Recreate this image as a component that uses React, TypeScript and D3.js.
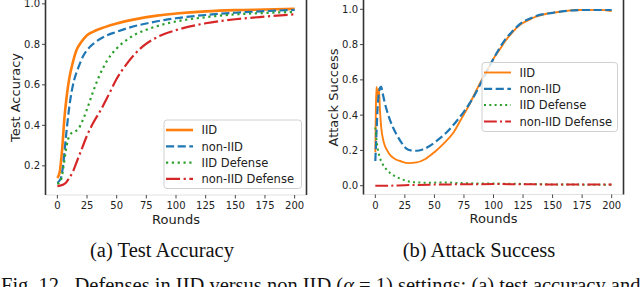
import React from "react";
import * as d3 from "d3";

// ---------- Data ----------
const xTicks = [0, 25, 50, 75, 100, 125, 150, 175, 200];
const accYTicks = [0.2, 0.4, 0.6, 0.8, 1.0];
const atkYTicks = [0.0, 0.2, 0.4, 0.6, 0.8, 1.0];
const seriesNames = ["IID", "non-IID", "IID Defense", "non-IID Defense"];

// (a) Test accuracy
const accIIDRounds = [0, 2, 4, 6, 8, 10, 13, 16, 20, 25, 30, 40, 50, 64, 84, 100, 125, 150, 175, 200];
const accIIDValues = [0.14, 0.17, 0.28, 0.44, 0.55, 0.63, 0.71, 0.77, 0.81, 0.845, 0.862, 0.885, 0.903, 0.922, 0.942, 0.952, 0.963, 0.969, 0.972, 0.975];

const accNonIIDRounds = [0, 3, 5, 7, 9, 11, 14, 18, 22, 27, 33, 40, 50, 62, 75, 90, 100, 125, 150, 175, 200];
const accNonIIDValues = [0.115, 0.14, 0.21, 0.33, 0.44, 0.53, 0.62, 0.69, 0.745, 0.785, 0.815, 0.84, 0.862, 0.885, 0.903, 0.92, 0.929, 0.945, 0.956, 0.964, 0.97];

const accIIDDefRounds = [0, 3, 5, 7, 9, 12, 15, 18, 21, 25, 30, 35, 42, 50, 58, 66, 75, 87, 100, 125, 150, 175, 200];
const accIIDDefValues = [0.11, 0.13, 0.19, 0.27, 0.33, 0.362, 0.37, 0.385, 0.42, 0.48, 0.565, 0.64, 0.72, 0.78, 0.82, 0.85, 0.872, 0.895, 0.913, 0.934, 0.948, 0.955, 0.96];

const accNonIIDDefRounds = [0, 4, 7, 10, 13, 17, 21, 25, 30, 37, 44, 50, 58, 65, 72, 84, 100, 125, 150, 175, 200];
const accNonIIDDefValues = [0.1, 0.105, 0.115, 0.14, 0.17, 0.23, 0.29, 0.35, 0.41, 0.48, 0.56, 0.63, 0.7, 0.75, 0.79, 0.835, 0.87, 0.904, 0.924, 0.937, 0.948];

// (b) Attack success
const atkIIDRounds = [0, 0.5, 1, 2, 3, 4, 5, 7, 10, 13, 17, 21, 28, 35, 42, 50, 58, 66, 72, 78, 84, 90, 96, 100, 105, 110, 116, 122, 130, 136, 145, 150, 160, 172, 190, 200];
const atkIIDValues = [0.19, 0.45, 0.56, 0.5, 0.55, 0.42, 0.33, 0.25, 0.2, 0.17, 0.15, 0.14, 0.128, 0.132, 0.15, 0.19, 0.24, 0.3, 0.37, 0.44, 0.52, 0.6, 0.67, 0.72, 0.77, 0.82, 0.87, 0.91, 0.94, 0.958, 0.975, 0.98, 0.99, 0.996, 0.997, 0.99];

const atkNonIIDRounds = [0, 1, 2, 3, 4, 5, 6, 8, 11, 15, 18, 22, 26, 30, 35, 40, 46, 54, 60, 68, 75, 82, 90, 96, 100, 110, 116, 122, 130, 136, 150, 160, 175, 200];
const atkNonIIDValues = [0.14, 0.3, 0.45, 0.52, 0.555, 0.56, 0.53, 0.47, 0.4, 0.33, 0.29, 0.245, 0.212, 0.2, 0.198, 0.205, 0.225, 0.265, 0.3, 0.36, 0.42, 0.49, 0.59, 0.67, 0.72, 0.83, 0.875, 0.915, 0.945, 0.962, 0.98, 0.99, 0.996, 0.996];

const atkIIDDefRounds = [0, 1, 3, 6, 10, 15, 20, 25, 32, 45, 60, 75, 100, 125, 150, 175, 200];
const atkIIDDefValues = [0.33, 0.26, 0.18, 0.125, 0.088, 0.06, 0.043, 0.03, 0.02, 0.017, 0.018, 0.014, 0.012, 0.01, 0.007, 0.006, 0.005];

const atkNonIIDDefRounds = [0, 10, 25, 50, 75, 100, 125, 150, 175, 200];
const atkNonIIDDefValues = [0.0, 0.0, 0.003, 0.006, 0.008, 0.009, 0.008, 0.007, 0.006, 0.006];

// ---------- Styles ----------
const COLORS = ["#ff7f0e", "#1f77b4", "#2ca02c", "#d62728"];
const dashFor = (i: number, lw: number): string | undefined => {
  if (i === 1) return `${3.7 * lw},${1.6 * lw}`;
  if (i === 2) return `${1 * lw},${1.65 * lw}`;
  if (i === 3) return `${6.4 * lw},${1.6 * lw},${1 * lw},${1.6 * lw}`;
  return undefined;
};
const SANS = "'DejaVu Sans', sans-serif";
const SERIF = "'Liberation Serif', 'Times New Roman', serif";

type Series = { rounds: number[]; values: number[] };

type PanelProps = {
  left: number;
  right: number;
  top: number;
  bottom: number;
  yDomain: [number, number];
  yTicks: number[];
  yLabel: string;
  series: Series[];
  widths: number[];
  legend: { x: number; y: number; w: number; h: number };
};

function Panel(p: PanelProps) {
  const x = d3.scaleLinear().domain([-10, 210]).range([p.left, p.right]);
  const y = d3.scaleLinear().domain(p.yDomain).range([p.bottom, p.top]);
  const line = d3
    .line<[number, number]>()
    .x((d) => x(d[0]))
    .y((d) => y(d[1]))
    .curve(d3.curveMonotoneX);
  const rowH = 16.3;
  return (
    <g>
      <defs>
        <clipPath id={`clip-${p.left}`}>
          <rect x={p.left} y={p.top - 2} width={p.right - p.left} height={p.bottom - p.top + 2} />
        </clipPath>
      </defs>
      <g clipPath={`url(#clip-${p.left})`}>
        {p.series.map((s, i) => (
          <path
            key={i}
            d={line(s.rounds.map((r, j) => [r, s.values[j]] as [number, number])) || ""}
            fill="none"
            stroke={COLORS[i]}
            strokeWidth={p.widths[i]}
            strokeDasharray={dashFor(i, p.widths[i])}
            strokeLinejoin="round"
          />
        ))}
      </g>
      {/* spines */}
      <line x1={p.left} x2={p.right} y1={p.bottom} y2={p.bottom} stroke="#e2e2e2" strokeWidth={1} />
      <line x1={p.left} x2={p.left} y1={p.top - 2} y2={p.bottom} stroke="#333" strokeWidth={1.6} />
      <line x1={p.right} x2={p.right} y1={p.top - 2} y2={p.bottom} stroke="#333" strokeWidth={1.6} />
      {/* x ticks */}
      {xTicks.map((t) => (
        <g key={t}>
          <line x1={x(t)} x2={x(t)} y1={p.bottom} y2={p.bottom + 3.5} stroke="#333" strokeWidth={0.9} />
          <text x={x(t)} y={p.bottom + 14} textAnchor="middle" fontFamily={SANS} fontSize={10} fill="#222">
            {t}
          </text>
        </g>
      ))}
      {/* y ticks */}
      {p.yTicks.map((t) => (
        <g key={t}>
          <line x1={p.left - 3.5} x2={p.left} y1={y(t)} y2={y(t)} stroke="#333" strokeWidth={0.9} />
          <text x={p.left - 5.5} y={y(t) + 3.6} textAnchor="end" fontFamily={SANS} fontSize={10} fill="#222">
            {t.toFixed(1)}
          </text>
        </g>
      ))}
      <text x={(p.left + p.right) / 2} y={p.bottom + 28.5} textAnchor="middle" fontFamily={SANS} fontSize={13} fill="#222">
        Rounds
      </text>
      <text
        transform={`translate(${p.left - 26},${(p.top + p.bottom) / 2}) rotate(-90)`}
        textAnchor="middle"
        fontFamily={SANS}
        fontSize={13}
        fill="#222"
      >
        {p.yLabel}
      </text>
      {/* legend */}
      <rect
        x={p.legend.x}
        y={p.legend.y}
        width={p.legend.w}
        height={p.legend.h}
        rx={3}
        fill="#fff"
        fillOpacity={0.8}
        stroke="#d0d0d0"
        strokeWidth={1}
      />
      {seriesNames.map((name, i) => {
        const cy = p.legend.y + 10 + i * rowH;
        return (
          <g key={name}>
            <line
              x1={p.legend.x + 2}
              x2={p.legend.x + 29}
              y1={cy}
              y2={cy}
              stroke={COLORS[i]}
              strokeWidth={p.widths[i]}
              strokeDasharray={dashFor(i, p.widths[i])}
            />
            <text x={p.legend.x + 37.5} y={cy + 4.2} fontFamily={SANS} fontSize={11.5} fill="#222">
              {name}
            </text>
          </g>
        );
      })}
    </g>
  );
}

export default function App() {
  const accSeries: Series[] = [
    { rounds: accIIDRounds, values: accIIDValues },
    { rounds: accNonIIDRounds, values: accNonIIDValues },
    { rounds: accIIDDefRounds, values: accIIDDefValues },
    { rounds: accNonIIDDefRounds, values: accNonIIDDefValues },
  ];
  const atkSeries: Series[] = [
    { rounds: atkIIDRounds, values: atkIIDValues },
    { rounds: atkNonIIDRounds, values: atkNonIIDValues },
    { rounds: atkIIDDefRounds, values: atkIIDDefValues },
    { rounds: atkNonIIDDefRounds, values: atkNonIIDDefValues },
  ];
  return (
    <svg
      width={640}
      height={287}
      style={{ position: "absolute", left: 0, top: 0, background: "#fff" }}
    >
      <rect x={0} y={0} width={640} height={287} fill="#fff" />
      <Panel
        left={45.5}
        right={306.5}
        top={0}
        bottom={195}
        yDomain={[0.056, 1.019]}
        yTicks={accYTicks}
        yLabel="Test Accuracy"
        series={accSeries}
        widths={[2.6, 2.2, 2.2, 2.2]}
        legend={{ x: 164, y: 120, w: 137.5, h: 68.5 }}
      />
      <Panel
        left={363.5}
        right={623.5}
        top={0.5}
        bottom={194.5}
        yDomain={[-0.05, 1.05]}
        yTicks={atkYTicks}
        yLabel="Attack Success"
        series={atkSeries}
        widths={[1.9, 2.2, 2.0, 2.0]}
        legend={{ x: 482, y: 62.5, w: 135.5, h: 69 }}
      />
      <text x={162} y={257} textAnchor="middle" fontFamily={SERIF} fontSize={20.5} fill="#111">
        (a) Test Accuracy
      </text>
      <text x={479} y={257} textAnchor="middle" fontFamily={SERIF} fontSize={20.5} fill="#111">
        (b) Attack Success
      </text>
      <text x={1} y={291.5} fontFamily={SERIF} fontSize={20.5} fill="#111" xmlSpace="preserve">
        {"Fig. 12.  Defenses in IID versus non IID ("}
        <tspan fontStyle="italic">α</tspan>
        {" = 1) settings: (a) test accuracy and"}
      </text>
    </svg>
  );
}
